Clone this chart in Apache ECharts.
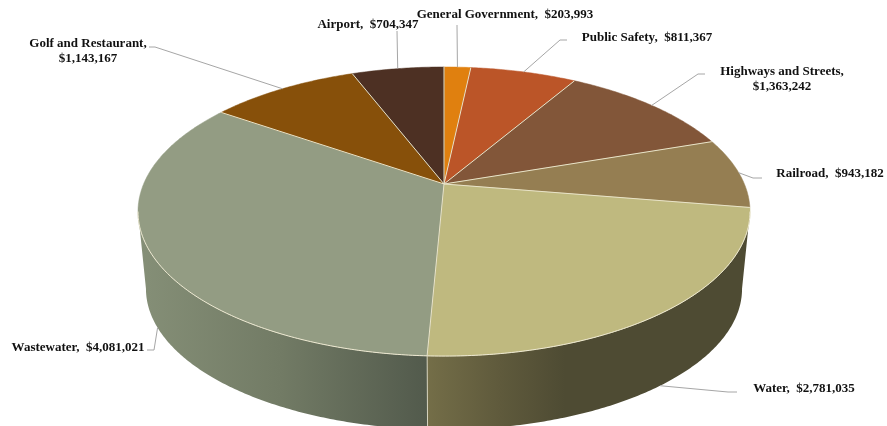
<!DOCTYPE html>
<html>
<head>
<meta charset="utf-8">
<style>html,body{margin:0;padding:0;background:#fff}#chart{width:887px;height:426px}</style>
<script src="https://cdn.jsdelivr.net/npm/echarts@6/dist/echarts.min.js"></script>
</head>
<body>
<div id="chart"></div>
<script>
// Spending by fund, clockwise from twelve o'clock.
const categories = ['General Government', 'Public Safety', 'Highways and Streets', 'Railroad', 'Water', 'Wastewater', 'Golf and Restaurant', 'Airport'];
const amounts = [203993, 811367, 1363242, 943182, 2781035, 4081021, 1143167, 704347];

// Colours of the slice faces.
const topColors = ['#e0800f', '#bb5528', '#825639', '#957e52', '#bfb97f', '#939c83', '#87500a', '#4d3023'];
// Side wall shading: [x, colour] stops running across the chart.
const wallStops = [
  [[0, '#a8640c']], [[0, '#8a3f1d']], [[0, '#5f3f2a']], [[0, '#6e5d3c']],
  [[427, '#746e48'], [500, '#5f5a3c'], [565, '#4e4b33'], [760, '#4e4b33']],
  [[140, '#858f77'], [280, '#727b65'], [427, '#525a4c']],
  [[0, '#633b07']], [[0, '#38231a']]
];

// Tilted disc: a unit circle seen in perspective.
const disc = { cx: 444, cy: 184, ax: 300.4, ay: 139.3, k: 0.1904, depth: 73.5, shrink: 0.974 };
// Label centres and leader elbows, in the same order as the categories.
const labelLayout = [
  { x: 505, y: 15, wrap: false, leader: [[457, 25]] },
  { x: 647, y: 38, wrap: false, leader: [[560, 40], [567, 40]] },
  { x: 782, y: 79, wrap: true, leader: [[698, 74], [705, 74]] },
  { x: 830, y: 174, wrap: false, leader: [[753, 178], [762, 178]] },
  { x: 804, y: 389, wrap: false, lower: true, leader: [[728, 392], [737, 392]] },
  { x: 78, y: 348, wrap: false, lower: true, leader: [[154, 350], [147, 350]] },
  { x: 88, y: 51, wrap: true, leader: [[155, 47], [149, 47]] },
  { x: 368, y: 25, wrap: false, leader: [[397, 31]] }
];

const total = amounts.reduce((a, b) => a + b, 0);
const starts = [];
amounts.reduce((acc, v, i) => { starts[i] = acc; return acc + v; }, 0);
const angleOf = v => v / total * Math.PI * 2;

// The wall is only seen between the two points where the rim turns back.
const wallFrom = Math.acos(-disc.k), wallTo = Math.PI * 2 - wallFrom;

// Projects an angle (clockwise from the back of the disc) to screen space.
function rim(angle, lower) {
  const X = Math.sin(angle), Y = Math.cos(angle), w = 1 + disc.k * Y;
  const s = lower ? disc.shrink : 1;
  const cy = lower ? disc.cy + 172 + disc.depth - 172 * disc.shrink : disc.cy;
  return [disc.cx + s * disc.ax * X / w, cy - s * disc.ay * Y / w];
}
function arc(a0, a1, lower) {
  const n = Math.max(2, Math.ceil((a1 - a0) / 0.01));
  const pts = [];
  for (let i = 0; i <= n; i++) pts.push(rim(a0 + (a1 - a0) * i / n, lower));
  return pts;
}
function wallFill(i) {
  const stops = wallStops[i];
  if (stops.length === 1) return stops[0][1];
  const x0 = stops[0][0], x1 = stops[stops.length - 1][0];
  return new echarts.graphic.LinearGradient(x0, 0, x1, 0,
    stops.map(s => ({ offset: (s[0] - x0) / (x1 - x0), color: s[1] })), true);
}
const money = v => '$' + v.toLocaleString('en-US');

const seriesData = amounts.map((v, i) => ({ name: categories[i], value: [v, starts[i]] }));

const option = {
  animation: false,
  backgroundColor: '#ffffff',
  series: [
    {
      // Side walls, painted first; only the part facing the viewer.
      type: 'custom', coordinateSystem: 'none', silent: true, z: 1, data: seriesData,
      renderItem(params, api) {
        const i = params.dataIndex;
        const start = angleOf(api.value(1)), end = start + angleOf(api.value(0));
        const a0 = Math.max(start, wallFrom), a1 = Math.min(end, wallTo);
        if (a1 <= a0) return { type: 'group', children: [] };
        const upper = arc(a0, a1, false), lower = arc(a0, a1, true).reverse();
        const children = [{ type: 'polygon', shape: { points: upper.concat(lower) }, style: { fill: wallFill(i) } }];
        if (start > wallFrom) {
          const p = rim(start), q = rim(start, true);
          children.push({ type: 'line', shape: { x1: p[0], y1: p[1], x2: q[0], y2: q[1] },
            style: { stroke: 'rgba(240,236,215,0.75)', lineWidth: 1 } });
        }
        return { type: 'group', children };
      }
    },
    {
      // Slice faces.
      type: 'custom', coordinateSystem: 'none', silent: true, z: 2, data: seriesData,
      renderItem(params, api) {
        const i = params.dataIndex;
        const a0 = angleOf(api.value(1)), a1 = a0 + angleOf(api.value(0));
        return { type: 'polygon', shape: { points: [[disc.cx, disc.cy]].concat(arc(a0, a1, false)) },
          style: { fill: topColors[i], stroke: topColors[i], lineWidth: 0.5 } };
      }
    },
    {
      // Pale seams between the slices and along the front rim.
      type: 'custom', coordinateSystem: 'none', silent: true, z: 3, data: seriesData,
      renderItem(params, api) {
        const start = angleOf(api.value(1)), end = start + angleOf(api.value(0));
        const p = rim(start);
        const children = [{ type: 'line', shape: { x1: disc.cx, y1: disc.cy, x2: p[0], y2: p[1] },
          style: { stroke: '#e9e3c8', lineWidth: 1 } }];
        const a0 = Math.max(start, wallFrom), a1 = Math.min(end, wallTo);
        if (a1 > a0) children.push({ type: 'polyline', shape: { points: arc(a0, a1, false) },
          style: { fill: 'none', stroke: '#eee9d2', lineWidth: 1 } });
        return { type: 'group', children };
      }
    },
    {
      // Leader lines and value labels.
      type: 'custom', coordinateSystem: 'none', silent: true, z: 4, data: seriesData,
      renderItem(params, api) {
        const i = params.dataIndex, lay = labelLayout[i];
        const v = api.value(0), mid = angleOf(api.value(1)) + angleOf(v) / 2;
        const sep = lay.wrap ? ',\n' : ',  ';
        return { type: 'group', children: [
          { type: 'polyline', shape: { points: [rim(mid, lay.lower)].concat(lay.leader) },
            style: { fill: 'none', stroke: '#a6a6a6', lineWidth: 1 } },
          { type: 'text', style: { x: lay.x, y: lay.y, text: categories[i] + sep + money(v),
            font: 'bold 13px "Liberation Serif", serif', lineHeight: 15,
            fill: '#111111', align: 'center', verticalAlign: 'middle' } }
        ] };
      }
    }
  ]
};
echarts.init(document.getElementById('chart'), null, { renderer: 'canvas' }).setOption(option);
</script>
</body>
</html>
